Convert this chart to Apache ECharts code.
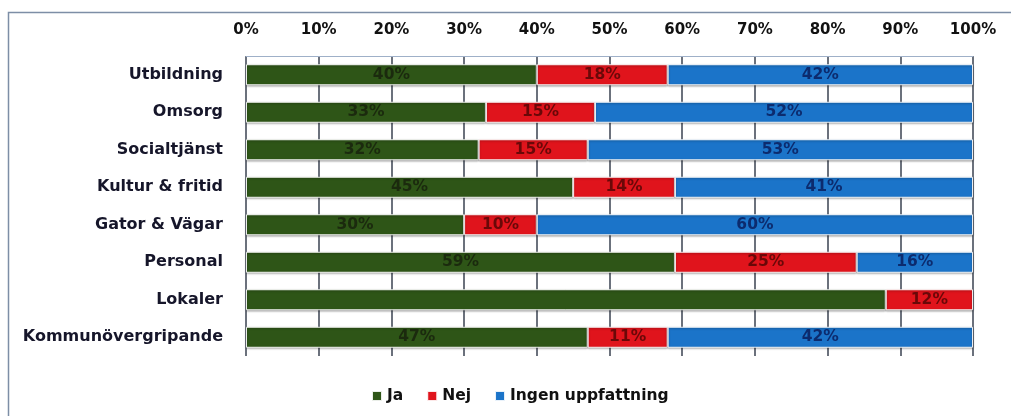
<!DOCTYPE html>
<html><head><meta charset="utf-8">
<script src="https://cdn.jsdelivr.net/npm/echarts@6/dist/echarts.min.js"></script>
<style>html,body{margin:0;padding:0;background:#fff}#c{width:1011px;height:416px}</style>
</head><body><div id="c"></div>
<script>
const categories = ['Utbildning','Omsorg','Socialtjänst','Kultur & fritid','Gator & Vägar','Personal','Lokaler','Kommunövergripande'];
const ja = [40,33,32,45,30,59,88,47];
const nej = [18,15,15,14,10,25,12,11];
const ingen = [42,52,53,41,60,16,0,42];
const seriesNames = ['Ja','Nej','Ingen uppfattning'];
const hiddenLabels = {Ja:['Lokaler']};

const FONT = '"DejaVu Sans", sans-serif';
const chart = echarts.init(document.getElementById('c'), null, {renderer:'canvas'});
function mk(name, data, color, labelColor){
  return {
    name, type:'bar', stack:'s', barWidth:21,
    data: data.map((v,i)=>({value: v === 0 ? null : v,
      label:{show: !(hiddenLabels[name]||[]).includes(categories[i])}})),
    itemStyle:{color, borderColor:'rgba(255,255,255,0.9)', borderWidth:1,
      shadowColor:'rgba(0,0,0,0.35)', shadowBlur:2, shadowOffsetY:1},
    label:{position:'inside', formatter:'{c}%', color:labelColor, fontWeight:'bold', fontSize:15.5, fontFamily:FONT},
    emphasis:{disabled:true}
  };
}
chart.setOption({
  animation:false,
  graphic:[{type:'rect', shape:{x:8.5,y:12.5,width:1100,height:500}, style:{fill:'none', stroke:'#7d8ea6', lineWidth:1.5}, silent:true}],
  grid:{left:246, right:38, top:56, height:300},
  legend:{top:383, left:366, itemWidth:10, itemHeight:10, itemGap:23, icon:'rect',
    textStyle:{fontWeight:'bold', fontSize:15.5, color:'#111', fontFamily:FONT}, data:seriesNames},
  xAxis:{type:'value', position:'top', min:0, max:100, interval:10,
    axisLabel:{formatter:'{value}%', fontWeight:'bold', fontSize:15, color:'#111', fontFamily:FONT, margin:18},
    axisLine:{show:true, lineStyle:{color:'#9fb0c8'}}, axisTick:{show:false},
    splitLine:{show:true, lineStyle:{color:'#3a4250', width:1.5}}},
  yAxis:{type:'category', inverse:true, data:categories,
    axisLabel:{fontWeight:'bold', fontSize:16, color:'#16162a', fontFamily:FONT, margin:23},
    axisLine:{show:false}, axisTick:{show:false},
    splitLine:{show:false}},
  series:[
    mk(seriesNames[0], ja, '#2e5517', '#1b2a0e'),
    mk(seriesNames[1], nej, '#e0141c', '#6a0808'),
    mk(seriesNames[2], ingen, '#1b74c9', '#0c2b6e')
  ]
});
</script></body></html>
